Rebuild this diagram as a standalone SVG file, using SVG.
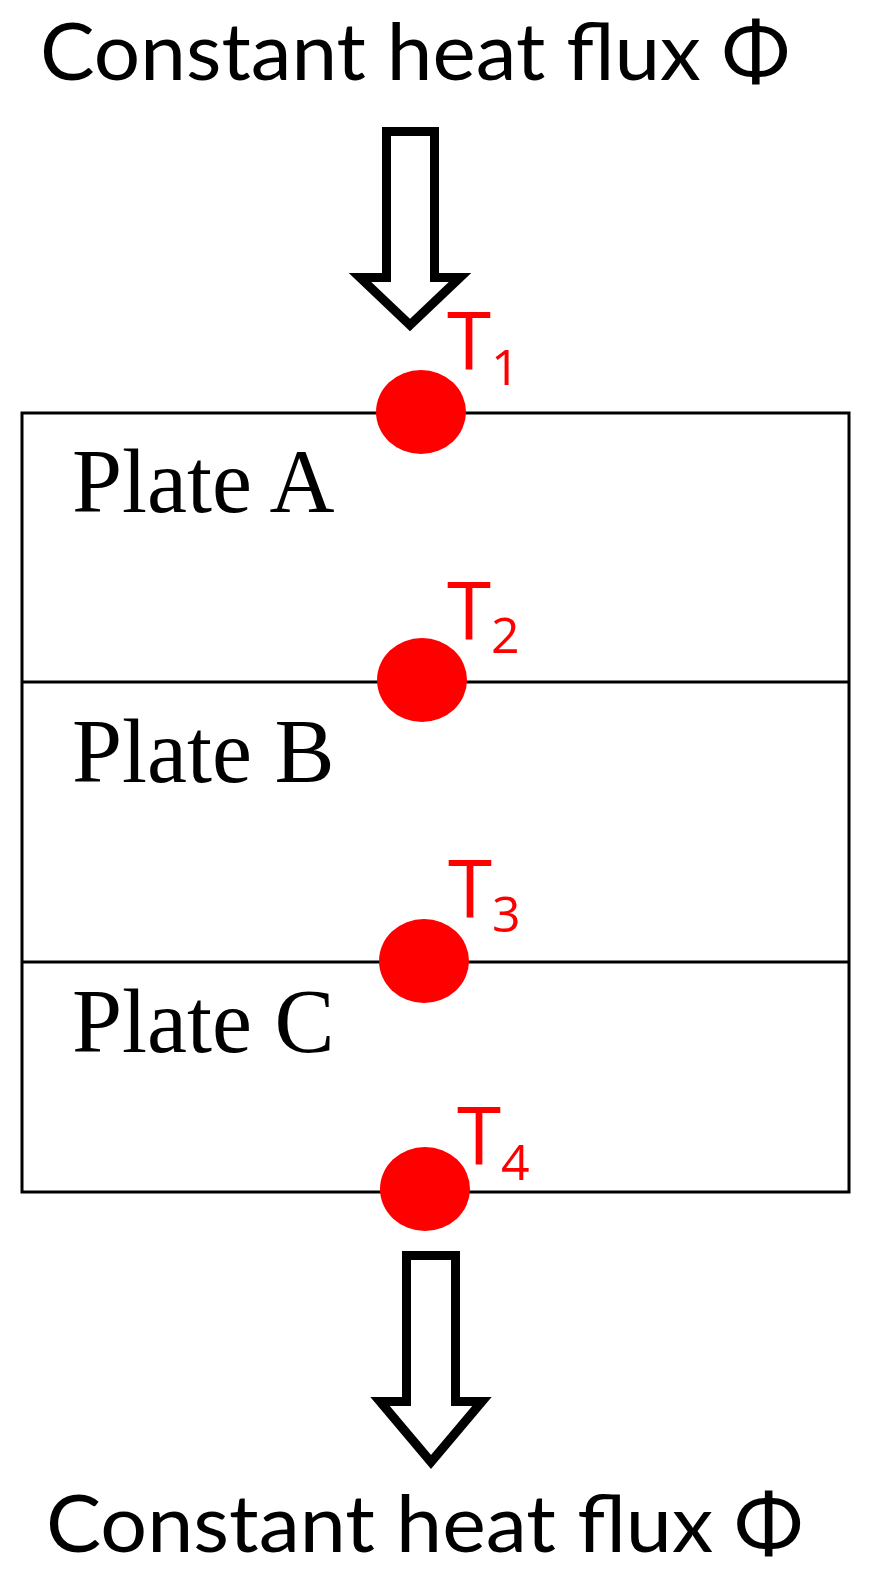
<svg xmlns="http://www.w3.org/2000/svg" width="875" height="1578" viewBox="0 0 875 1578">
<style>
.title{font-family:Lato,"Open Sans",sans-serif;font-size:79px;fill:#000}
.plate{font-family:"Liberation Serif","Times New Roman",serif;font-size:90px;fill:#000}
.tl{font-family:"Open Sans","Noto Sans",sans-serif;font-size:80px;fill:#ff0000}
.sub{font-size:50px}
.arrow{fill:#fff;stroke:#000;stroke-width:9;stroke-linejoin:miter;stroke-miterlimit:10}
.line{stroke:#000;stroke-width:3;fill:none}
.dot{fill:#ff0000}
</style>
<rect width="875" height="1578" fill="#fff"/>
<g id="title-top"><text class="title" x="40" y="80" textLength="750" lengthAdjust="spacingAndGlyphs">Constant heat flux Φ</text></g>
<g id="plates">
<rect class="line" x="22" y="413" width="827" height="779"/>
<line class="line" x1="22" y1="682" x2="849" y2="682"/>
<line class="line" x1="22" y1="962" x2="849" y2="962"/>
</g>
<g id="plate-a"><text class="plate" x="72" y="512">Plate A</text></g>
<g id="plate-b"><text class="plate" x="72" y="782">Plate B</text></g>
<g id="plate-c"><text class="plate" x="72" y="1052">Plate C</text></g>
<g id="connectors">
<path class="arrow" d="M386.5,131.5 H434.5 V277.5 H460 L410,325 L360,277.5 H386.5 Z"/>
<path class="arrow" d="M406.5,1255.5 H455.5 V1401.5 H482 L431,1462 L380,1401.5 H406.5 Z"/>
</g>
<g id="t1"><ellipse class="dot" cx="421" cy="412" rx="45" ry="42"/><text class="tl" x="447" y="370">T<tspan class="sub" x="491" y="385">1</tspan></text></g>
<g id="t2"><ellipse class="dot" cx="422" cy="680" rx="45" ry="42"/><text class="tl" x="447" y="640">T<tspan class="sub" x="491" y="653">2</tspan></text></g>
<g id="t3"><ellipse class="dot" cx="424" cy="961" rx="45" ry="42"/><text class="tl" x="448" y="918">T<tspan class="sub" x="492" y="932">3</tspan></text></g>
<g id="t4"><ellipse class="dot" cx="425" cy="1189" rx="45" ry="42"/><text class="tl" x="457" y="1165">T<tspan class="sub" x="501" y="1180">4</tspan></text></g>
<g id="title-bottom"><text class="title" x="46" y="1552" textLength="757" lengthAdjust="spacingAndGlyphs">Constant heat flux Φ</text></g>
</svg>
